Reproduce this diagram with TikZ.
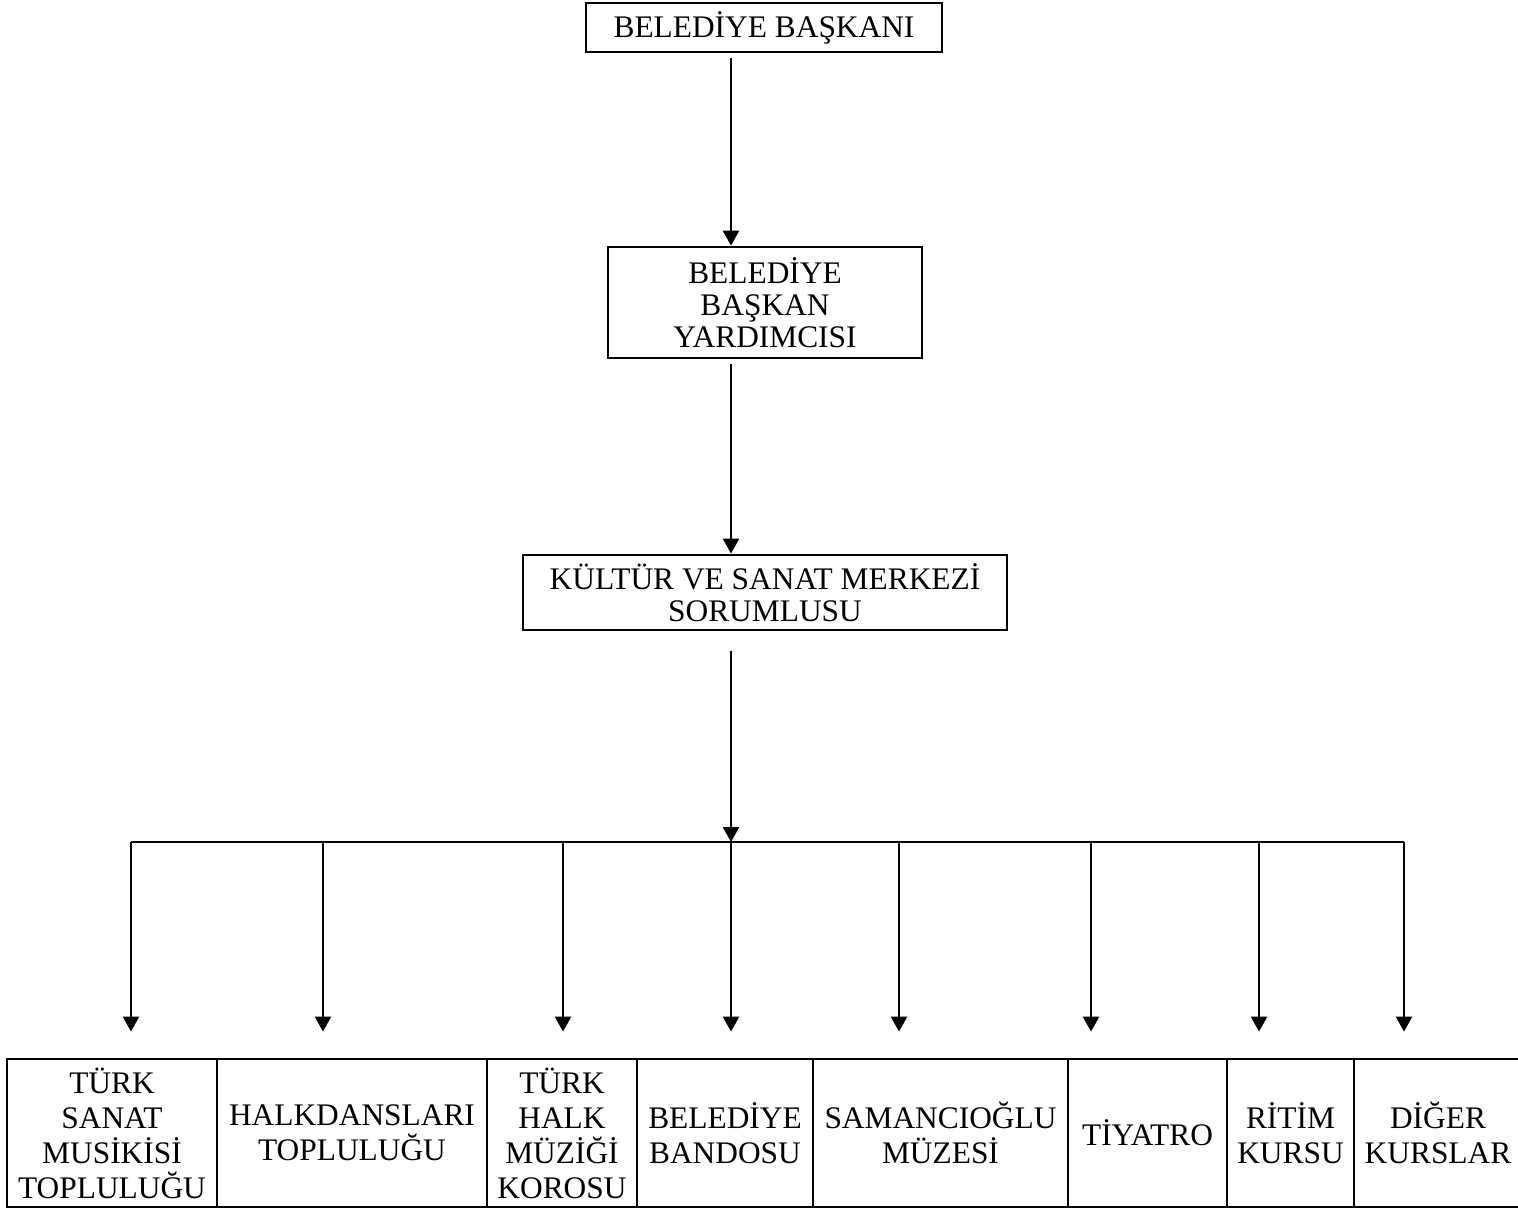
\documentclass[tikz,border=0pt]{standalone}
\usepackage{fontspec}
\setmainfont{Liberation Serif}
\usetikzlibrary{arrows.meta,calc}

\begin{document}
\begin{tikzpicture}[x=0.5pt,y=-0.5pt,
  box/.style={draw,line width=1.4pt,inner sep=0pt,align=center,
    font=\fontsize{15.7}{16}\selectfont},
  unit/.style={box,font=\fontsize{15.7}{17.5}\selectfont,minimum height=74pt},
  link/.style={line width=1.25pt},
  arr/.style={link,-{Triangle[width=8pt,length=7.5pt]}}]
\useasboundingbox (0,0) rectangle (1518,1209);

% upper chain of command
\node[box,minimum width=178pt,minimum height=24.5pt] (mayor) at (764,27.5) {BELEDİYE BAŞKANI};
\node[box,minimum width=157pt,minimum height=55.5pt] (deputy) at (765,302.5) {BELEDİYE\\BAŞKAN\\YARDIMCISI};
\node[box,minimum width=242pt,minimum height=37.5pt] (centre) at (765,592.5) {KÜLTÜR VE SANAT MERKEZİ\\SORUMLUSU};

% units under the centre
\node[unit,minimum width=105pt]  (u1) at (112,1133)    {TÜRK\\SANAT\\MUSİKİSİ\\TOPLULUĞU};
\node[unit,minimum width=135pt]  (u2) at (352,1133)    {HALKDANSLARI\\TOPLULUĞU};
\node[unit,minimum width=75pt]   (u3) at (562,1133)    {TÜRK\\HALK\\MÜZİĞİ\\KOROSU};
\node[unit,minimum width=88pt]   (u4) at (725,1133)    {BELEDİYE\\BANDOSU};
\node[unit,minimum width=127.5pt](u5) at (940.5,1133)  {SAMANCIOĞLU\\MÜZESİ};
\node[unit,minimum width=79.5pt] (u6) at (1147.5,1133) {TİYATRO};
\node[unit,minimum width=63.5pt] (u7) at (1290.5,1133) {RİTİM\\KURSU};
\node[unit,minimum width=84pt]   (u8) at (1438,1133)   {DİĞER\\KURSLAR};

% vertical spine
\coordinate (spine) at (731,0);
\coordinate (bar) at (731,842);
\draw[arr] ($(mayor.south -| spine)+(0,5)$) -- (deputy.north -| spine);
\draw[arr] ($(deputy.south -| spine)+(0,5)$) -- (centre.north -| spine);
\draw[arr] ($(centre.south -| spine)+(0,20)$) -- (bar);

% distribution bar and drops
\coordinate (barL) at (131,842);
\coordinate (barR) at (1404,842);
\draw[link] (barL) -- (barR);
\foreach \i/\x in {1/131,2/323,3/563,4/731,5/899,6/1091,7/1259,8/1404}{
  \coordinate (d\i) at (\x,842);
  \draw[arr] (d\i) -- ($(d\i |- u\i.north)+(0,-26)$);
}
\end{tikzpicture}
\end{document}
